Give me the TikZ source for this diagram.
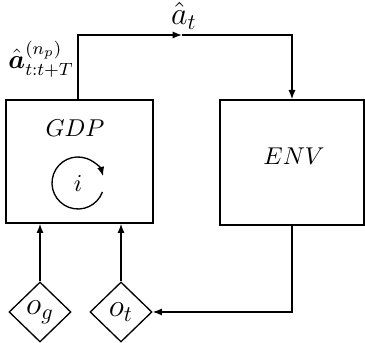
\documentclass[tikz,border=0pt]{standalone}
\usepackage{amsmath,bm}
\usetikzlibrary{arrows.meta,shapes.geometric}
\begin{document}
\begin{tikzpicture}[x=0.45pt,y=-0.45pt,
  line width=0.6pt,
  tip/.style={-{Latex[length=4.2pt,width=3.2pt]}},
  blockbox/.style={draw,rectangle,inner sep=0pt},
  boxtext/.style={font=\fontsize{11}{13}\selectfont},
  bigtext/.style={font=\Large},
  obsnode/.style={draw,diamond,inner sep=0pt,minimum width=27.9pt,minimum height=27pt,font=\Large}]
\useasboundingbox (0,0) rectangle (365,343);
\node[blockbox,minimum width=66.15pt,minimum height=55.35pt] (gdp) at (79.5,161.5) {};
\node[blockbox,minimum width=64.8pt,minimum height=56.25pt] (env) at (292,162.5) {};
\node[boxtext] (gdplabel) at (75,128) {$GDP$};
\node[boxtext] (envlabel) at (294,156) {$ENV$};
\node[boxtext] (iter) at (78,183) {$i$};
\draw[tip] (iter.center) ++(-20:11.7pt) arc[start angle=-20,end angle=-345,radius=11.7pt];
\node[obsnode] (og) at (40,312) {$o_g$};
\node[obsnode] (ot) at (121,312) {$o_t$};
\draw[tip] (og.north) -- (og.north |- gdp.south);
\draw[tip] (ot.north) -- (ot.north |- gdp.south);
\coordinate (corner) at (78,35);
\coordinate (mid) at (182,35);
\coordinate (gdptop) at (78,100);
\draw[tip] (gdptop) -- (corner) -- (mid);
\draw[tip] (mid) -| (env.north);
\draw[tip] (env.south) |- (ot.east);
\node[bigtext] (atlabel) at (184,16) {$\hat{a}_t$};
\node[font=\fontsize{12}{14}\selectfont] (seqlabel) at (41,59) {$\hat{\bm{a}}^{(n_p)}_{t:t+T}$};
\end{tikzpicture}
\end{document}
